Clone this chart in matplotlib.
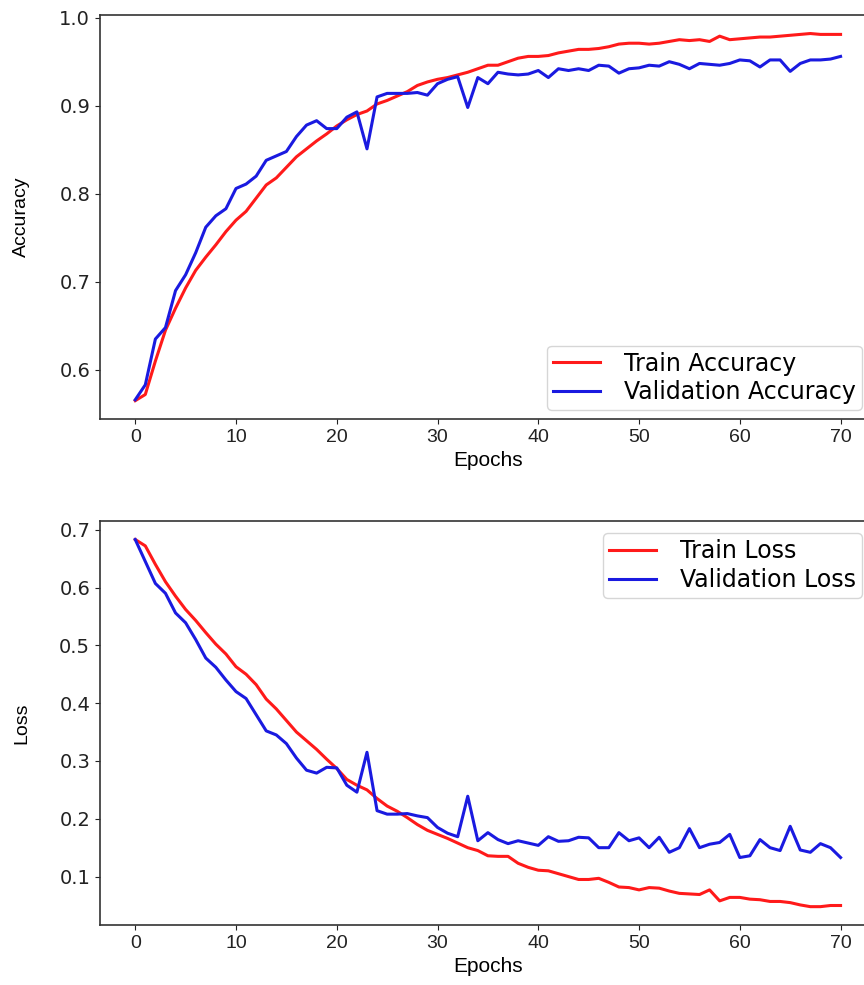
import matplotlib
matplotlib.use("Agg")
import matplotlib.pyplot as plt
import numpy as np

# 训练过程数据
epochs = np.arange(71)

train_acc = [0.565, 0.572, 0.61, 0.645, 0.67, 0.693, 0.713, 0.728, 0.742, 0.757,
             0.77, 0.78, 0.795, 0.81, 0.818, 0.83, 0.842, 0.851, 0.86, 0.868,
             0.877, 0.884, 0.89, 0.894, 0.902, 0.906, 0.911, 0.916, 0.923, 0.927,
             0.93, 0.932, 0.935, 0.938, 0.942, 0.946, 0.946, 0.95, 0.954, 0.956,
             0.956, 0.957, 0.96, 0.962, 0.964, 0.964, 0.965, 0.967, 0.97, 0.971,
             0.971, 0.97, 0.971, 0.973, 0.975, 0.974, 0.975, 0.973, 0.979, 0.975,
             0.976, 0.977, 0.978, 0.978, 0.979, 0.98, 0.981, 0.982, 0.981, 0.981,
             0.981]

val_acc = [0.566, 0.583, 0.635, 0.648, 0.69, 0.708, 0.733, 0.762, 0.775, 0.783,
           0.806, 0.811, 0.82, 0.838, 0.843, 0.848, 0.865, 0.878, 0.883, 0.874,
           0.874, 0.887, 0.893, 0.851, 0.91, 0.914, 0.914, 0.914, 0.915, 0.912,
           0.925, 0.93, 0.933, 0.898, 0.932, 0.925, 0.938, 0.936, 0.935, 0.936,
           0.94, 0.932, 0.942, 0.94, 0.942, 0.94, 0.946, 0.945, 0.937, 0.942,
           0.943, 0.946, 0.945, 0.95, 0.947, 0.942, 0.948, 0.947, 0.946, 0.948,
           0.952, 0.951, 0.944, 0.952, 0.952, 0.939, 0.948, 0.952, 0.952, 0.953,
           0.956]

train_loss = [0.683, 0.672, 0.64, 0.61, 0.585, 0.562, 0.543, 0.522, 0.502, 0.485,
              0.463, 0.45, 0.432, 0.407, 0.39, 0.37, 0.35, 0.335, 0.32, 0.303,
              0.287, 0.268, 0.258, 0.25, 0.235, 0.222, 0.213, 0.202, 0.19, 0.18,
              0.173, 0.166, 0.158, 0.15, 0.145, 0.136, 0.135, 0.135, 0.123, 0.116,
              0.111, 0.11, 0.105, 0.1, 0.095, 0.095, 0.097, 0.09, 0.082, 0.081,
              0.077, 0.081, 0.08, 0.075, 0.071, 0.07, 0.069, 0.077, 0.058, 0.064,
              0.064, 0.061, 0.06, 0.057, 0.057, 0.055, 0.051, 0.048, 0.048, 0.05,
              0.05]

val_loss = [0.683, 0.645, 0.607, 0.59, 0.556, 0.539, 0.51, 0.478, 0.462, 0.44,
            0.42, 0.408, 0.38, 0.352, 0.345, 0.33, 0.305, 0.284, 0.279, 0.289,
            0.288, 0.258, 0.246, 0.315, 0.214, 0.208, 0.208, 0.209, 0.205, 0.202,
            0.185, 0.175, 0.169, 0.239, 0.162, 0.176, 0.164, 0.157, 0.162, 0.158,
            0.154, 0.169, 0.161, 0.162, 0.168, 0.167, 0.15, 0.15, 0.176, 0.162,
            0.167, 0.15, 0.168, 0.142, 0.15, 0.183, 0.15, 0.156, 0.159, 0.173,
            0.133, 0.136, 0.164, 0.15, 0.145, 0.187, 0.146, 0.142, 0.157, 0.15,
            0.133]

narrow = ['Liberation Sans', 'DejaVu Sans']
leg_kw = dict(fontsize=17, labelspacing=0.2, borderpad=0.25, borderaxespad=0,
              handletextpad=1.0)

fig = plt.figure(figsize=(8.64, 9.85), dpi=100)
# 右边框在图片外 (原图被裁切)
ax1 = fig.add_axes([0.1157, 0.5746, 0.898, 0.410])
ax2 = fig.add_axes([0.1157, 0.0609, 0.898, 0.410])

# ————————————————————————————————————————————————————————————
# 准确率
ax1.plot(epochs, train_acc, color='#ff1a1a', linewidth=2.2, label='Train Accuracy')
ax1.plot(epochs, val_acc, color='#1a1ae0', linewidth=2.2, label='Validation Accuracy')
ax1.set_xlabel("Epochs", fontsize=15, family=narrow)
ax1.set_ylabel("Accuracy", fontsize=14, family=narrow)
ax1.legend(loc="lower right", bbox_to_anchor=(0.982, 0.022), **leg_kw)

# ————————————————————————————————————————————————————————————
# 损失
ax2.plot(epochs, train_loss, color='#ff1a1a', linewidth=2.2, label='Train Loss')
ax2.plot(epochs, val_loss, color='#1a1ae0', linewidth=2.2, label='Validation Loss')
ax2.set_xlabel("Epochs", fontsize=15, family=narrow)
ax2.set_ylabel("Loss", fontsize=14, family=narrow)
ax2.legend(loc="upper right", bbox_to_anchor=(0.982, 0.97), **leg_kw)

for ax in (ax1, ax2):
    ax.set_xticks(range(0, 71, 10))
    ax.tick_params(axis='y', labelsize=14, colors='#222222')
    ax.tick_params(axis='x', labelsize=14, colors='#222222')
    for lab in ax.get_xticklabels():
        lab.set_family(narrow)
    ax.yaxis.set_label_coords(-0.09, 0.5)
    for sp in ax.spines.values():
        sp.set_linewidth(1.2)
        sp.set_color('#333333')

plt.savefig('out.png', dpi=100)
